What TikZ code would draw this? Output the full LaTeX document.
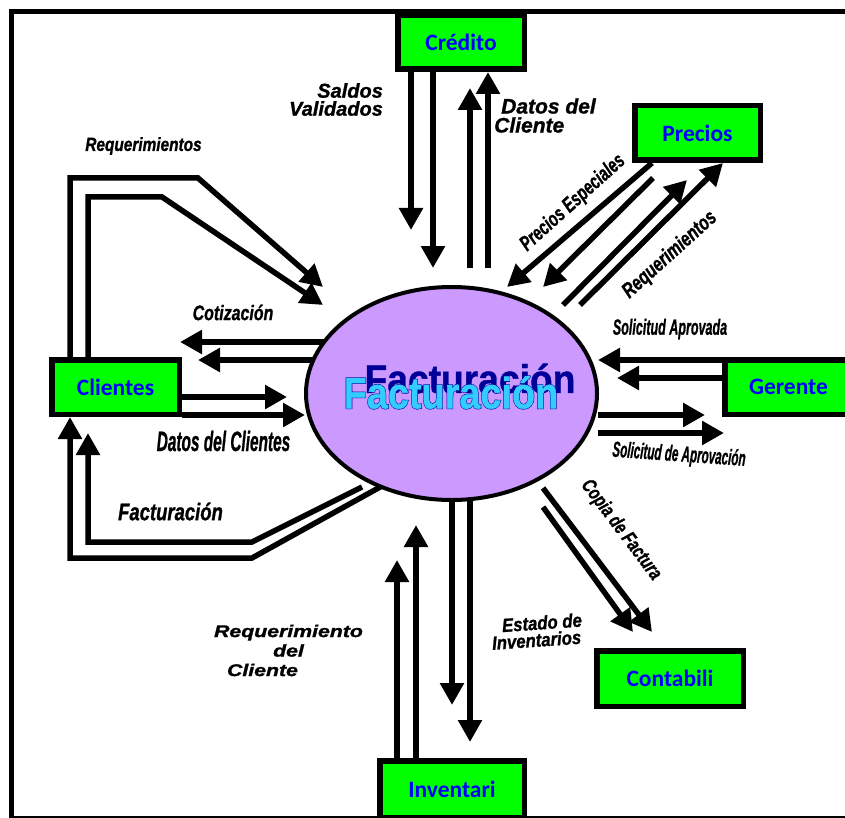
\documentclass[tikz,border=0pt]{standalone}
\usepackage{fontspec}
\usetikzlibrary{arrows.meta,shapes.geometric}
\newfontfamily\boxfont{Carlito}
\newfontfamily\lblfont{Liberation Sans}[BoldItalicFeatures={FakeBold=1.2}]
\newfontfamily\titlefont{Liberation Sans}[BoldFeatures={FakeBold=1}]
\newfontfamily\titlerim{Liberation Sans}[BoldFeatures={FakeBold=3.5}]
\definecolor{boxgreen}{RGB}{0,255,0}
\definecolor{boxtext}{RGB}{0,0,255}
\definecolor{procfill}{RGB}{204,153,255}
\definecolor{wadark}{RGB}{0,0,153}
\definecolor{walight}{RGB}{51,204,255}
% horizontal squeeze of a piece of text
\newcommand{\squeeze}[2]{\scalebox{#1}[1]{#2}}
\pgfdeclarelayer{bg}
\pgfsetlayers{bg,main}

\begin{document}
\begin{tikzpicture}[x=1pt,y=-1pt,
  entity/.style={draw=black, fill=boxgreen, line width=5.5pt, inner sep=0pt,
    font=\boxfont\bfseries\fontsize{23.5}{28}\selectfont, text=boxtext},
  flow/.style={line width=5.5pt, line join=miter,
    -{Triangle[width=23pt,length=22pt]}},
  lbl/.style={inner sep=0pt, font=\lblfont\bfseries\itshape\fontsize{#1}{#1}\selectfont},
  wordart/.style={inner sep=0pt, font=\titlefont\bfseries\fontsize{#1}{#1}\selectfont},
  wordrim/.style={inner sep=0pt, font=\titlerim\bfseries\fontsize{#1}{#1}\selectfont},
]
\useasboundingbox (0,0) rectangle (845,818);

% external entities
\node[entity, minimum width=126.5pt, minimum height=53.5pt] (cred) at (461,42.5) {Crédito};
\node[entity, minimum width=125.5pt, minimum height=54.5pt] (prec) at (697.5,133) {Precios};
\node[entity, minimum width=127.5pt, minimum height=54.5pt] (clie) at (115.5,387) {Clientes};
\node[entity, minimum width=127.5pt, minimum height=54.5pt] (gere) at (788.5,387) {Gerente};
\node[entity, minimum width=146.5pt, minimum height=55.5pt] (cont) at (670,678.5) {Contabili};
\node[entity, minimum width=144.5pt, minimum height=56.5pt] (inve) at (452,789) {Inventari};

% central process
\node[ellipse, draw=black, line width=4pt, fill=procfill, inner sep=0pt,
      minimum width=291pt, minimum height=213pt] (fact) at (451.5,393.5) {};

\begin{pgfonlayer}{bg}
  % outer frame
  \draw[line width=5pt] (860,11.5) -- (11,11.5) -- (11,818.5) -- (860,818.5);

  % Credito
  \draw[flow] ([xshift=-50pt]cred.south) -- (411,230);
  \draw[flow] ([xshift=-28pt]cred.south) -- (433,268);
  \draw[flow] (470,268) -- (470,88);
  \draw[flow] (488,268) -- ([xshift=27pt]cred.south);

  % Precios
  \draw[flow] ([xshift=-45.5pt]prec.south) -- (507,287);
  \draw[flow] (653,178) -- (543,287);
  \draw[flow] (563,305) -- (687,180);
  \draw[flow] (580,305) -- ([xshift=25.5pt]prec.south);

  % Clientes: requerimientos
  \draw[flow] ([xshift=-45.5pt]clie.north) -- (70,178) -- (198,178) -- (323,287);
  \draw[flow] ([xshift=-27.5pt]clie.north) -- (88,197) -- (162,197) -- (323,305);

  % Cotizacion
  \draw[flow] (330,342) -- (180,342);
  \draw[flow] (315,360) -- (198,360);

  % Datos del cliente
  \draw[flow] ([yshift=-10pt]clie.east) -- (287,397);
  \draw[flow] ([yshift=-28pt]clie.east) -- (305,415);

  % Facturacion hacia Clientes
  \draw[flow] (382,486) -- (252,558) -- (70,558) -- ([xshift=-45.5pt]clie.south);
  \draw[flow] (362,487) -- (252,542) -- (88,542) -- (88,433);

  % Gerente
  \draw[flow] ([yshift=27pt]gere.west) -- (598,360);
  \draw[flow] ([yshift=9pt]gere.west) -- (617,378);
  \draw[flow] (598,415) -- (705,415);
  \draw[flow] (598,433) -- (724,433);

  % Contabilidad
  \draw[flow] (543,488) -- (652,632);
  \draw[flow] (543,507) -- (633,632);

  % Inventario
  \draw[flow] ([xshift=-55pt]inve.north) -- (397,560);
  \draw[flow] ([xshift=-36pt]inve.north) -- (416,525);
  \draw[flow] (452,500) -- (452,705);
  \draw[flow] (470,500) -- (470,742);
\end{pgfonlayer}

% title of the process: back copy, dark rim, front copy
\node[wordart=40, text=wadark] (wadk) at (470,378.5) {\squeeze{0.93}{Facturación}};
\node[wordrim=44, text=wadark] (warim) at (451,392.5) {\squeeze{0.86}{Facturación}};
\node[wordart=44, text=walight] (walt) at (451,392.5) {\squeeze{0.86}{Facturación}};

% flow labels
\node[lbl=20, align=right] (lsal) at (336,99.5) {Saldos\\[-2pt]Validados};
\node[lbl=21, align=left] (ldat) at (545,115.5) {\hspace*{7pt}Datos del\\[-2pt]Cliente};
\node[lbl=19] (lreqa) at (143.5,146) {\squeeze{0.81}{Requerimientos}};
\node[lbl=21, rotate=42] (lpes) at (573,203) {\squeeze{0.7}{Precios Especiales}};
\node[lbl=21, rotate=42] (lreqb) at (670,255) {\squeeze{0.75}{Requerimientos}};
\node[lbl=21] (lcot) at (233,312.5) {\squeeze{0.76}{Cotización}};
\node[lbl=28] (ldcl) at (223.5,441) {\squeeze{0.55}{Datos del Clientes}};
\node[lbl=24] (lfac) at (170.5,511.5) {\squeeze{0.77}{Facturación}};
\node[lbl=22] (lsap) at (670,329) {\squeeze{0.57}{Solicitud Aprovada}};
\node[lbl=22, rotate=-4] (lsda) at (679,455.5) {\squeeze{0.53}{Solicitud de Aprovación}};
\node[lbl=20, rotate=-53] (lcop) at (621,530) {\squeeze{0.74}{Copia de Factura}};
\node[lbl=19, rotate=4, align=center] (lest) at (536,631.5)
  {\hspace*{13pt}\squeeze{0.88}{Estado de}\\[-2pt]\squeeze{0.88}{Inventarios}};
\node[lbl=17, align=center] (lrqc) at (288.5,650.5)
  {\squeeze{1.25}{Requerimiento}\\[2.5pt]\squeeze{1.25}{del}\hspace*{35pt}\\[2.5pt]\squeeze{1.25}{Cliente}\hspace*{52pt}};
\end{tikzpicture}
\end{document}
